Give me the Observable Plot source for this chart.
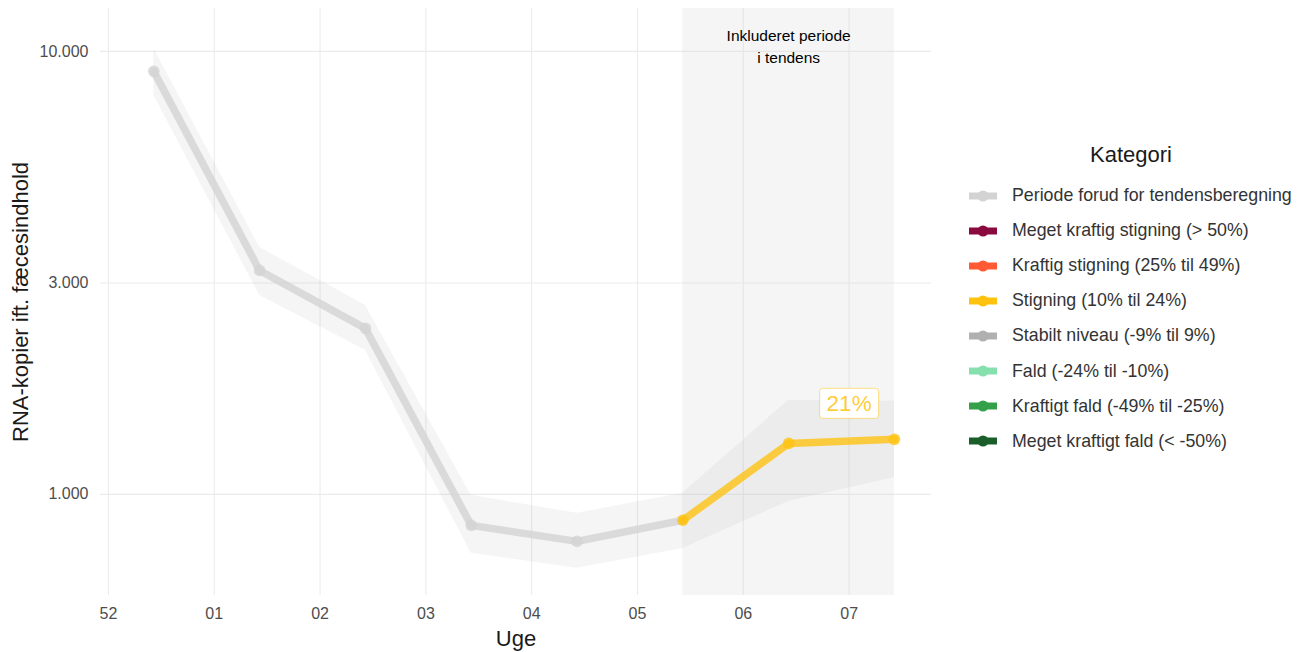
<!DOCTYPE html>
<html>
<head>
<meta charset="utf-8">
<script src="https://cdn.jsdelivr.net/npm/d3@7"></script>
<script src="https://cdn.jsdelivr.net/npm/@observablehq/plot@0.6"></script>
<style>
  body { margin: 0; background: #fff; font-family: "Liberation Sans", Arial, sans-serif; }
  #wrap { position: relative; width: 1306px; height: 652px; }
  #legend { position: absolute; left: 968px; top: 142px; width: 338px; }
  #legend .title { font-size: 22px; color: #1a1a1a; text-align: center; width: 326px; margin-bottom: 10px; }
  #legend .item { display: flex; align-items: center; height: 35.1px; }
  #legend .item svg { margin-right: 14px; flex: none; }
  #legend .item span { font-size: 17.8px; color: #333; white-space: nowrap; }
</style>
</head>
<body>
<div id="wrap">
  <div id="chart"></div>
  <div id="legend"></div>
</div>
<script>
// ---- data ----
const weekLabels = ["52", "01", "02", "03", "04", "05", "06", "07"];
const dayOffset = 3; // samples fall mid-week (Thursday)
const values = [9015, 3203, 2370, 851, 783, 874, 1303, 1331];
const lower  = [7956, 2813, 2114, 736, 681, 755, 964, 1092];
const upper  = [10157, 3611, 2671, 995, 906, 1005, 1630, 1622];
const period = ["pre", "pre", "pre", "pre", "pre", "trend", "trend", "trend"];
const trendLabel = "21%";
const trendCategory = "Stigning (10% til 24%)";

const categories = [
  "Periode forud for tendensberegning",
  "Meget kraftig stigning (> 50%)",
  "Kraftig stigning (25% til 49%)",
  "Stigning (10% til 24%)",
  "Stabilt niveau (-9% til 9%)",
  "Fald (-24% til -10%)",
  "Kraftigt fald (-49% til -25%)",
  "Meget kraftigt fald (< -50%)"
];
const categoryColors = ["#d3d3d3", "#8b0a3e", "#ff5a33", "#ffc20e", "#b0b0b0", "#86e0ae", "#34a14a", "#1b5e2a"];

const yTicks = [1000, 3000, 10000];
const yDomain = [591, 12500];
const xPadLeft = 0.075, xPadRight = 0.35; // week units of padding around the week range
const annotation = "Inkluderet periode\ni tendens";

// ---- build rows ----
const rows = values.map((v, i) => ({
  x: i + dayOffset / 7, value: v, lo: lower[i], hi: upper[i], period: period[i]
}));
const firstTrend = period.indexOf("trend");
const preRows = rows.slice(0, firstTrend + 1);
const trendRows = rows.slice(firstTrend);
const trendColor = categoryColors[categories.indexOf(trendCategory)];
const preColor = categoryColors[0];
const xStart = trendRows[0].x, xEnd = trendRows[trendRows.length - 1].x;
const xMid = (xStart + xEnd) / 2;
const xDomain = [0 - xPadLeft, d3.max(rows, d => d.x) + xPadRight];

const loc = d3.formatLocale({decimal: ",", thousands: ".", grouping: [3], currency: ["", ""]});
const fmt = loc.format(",");

// rounded rect symbol for label box
const labelBox = {
  draw(ctx) {
    const w = 29.5, h = 15, r = 3;
    ctx.moveTo(-w + r, -h);
    ctx.lineTo(w - r, -h); ctx.arcTo(w, -h, w, -h + r, r);
    ctx.lineTo(w, h - r); ctx.arcTo(w, h, w - r, h, r);
    ctx.lineTo(-w + r, h); ctx.arcTo(-w, h, -w, h - r, r);
    ctx.lineTo(-w, -h + r); ctx.arcTo(-w, -h, -w + r, -h, r);
    ctx.closePath();
  }
};

const labelRow = [{x: weekLabels.length - 1, y: 1605, text: trendLabel}];

const chart = Plot.plot({
  width: 1306,
  height: 652,
  marginLeft: 100,
  marginRight: 375,
  marginTop: 8,
  marginBottom: 57,
  style: {fontFamily: "'Liberation Sans', Arial, sans-serif", background: "#fff"},
  x: {domain: xDomain},
  y: {type: "log", domain: yDomain},
  marks: [
    Plot.gridX(d3.range(weekLabels.length), {stroke: "#ebebeb", strokeOpacity: 1, strokeWidth: 1.1}),
    Plot.gridY(yTicks, {stroke: "#ebebeb", strokeOpacity: 1, strokeWidth: 1.1}),
    Plot.rect([{}], {x1: () => xStart, x2: () => xEnd, fill: "#d9d9d9", fillOpacity: 0.27}),
    Plot.areaY(rows, {x: "x", y1: "lo", y2: "hi", fill: "#999", fillOpacity: 0.1}),
    Plot.line(preRows, {x: "x", y: "value", stroke: preColor, strokeOpacity: 0.8, strokeWidth: 7.5}),
    Plot.dot(rows.filter(d => d.period === "pre"), {x: "x", y: "value", r: 5.8, fill: preColor, fillOpacity: 0.8}),
    Plot.line(trendRows, {x: "x", y: "value", stroke: trendColor, strokeOpacity: 0.78, strokeWidth: 7.5}),
    Plot.dot(trendRows, {x: "x", y: "value", r: 5.8, fill: trendColor, fillOpacity: 0.78}),
    Plot.text([annotation], {x: () => xMid, frameAnchor: "top", dy: 17, fontSize: 15.5, fill: "#000", lineHeight: 1.42, lineAnchor: "top"}),
    Plot.dot(labelRow, {x: "x", y: "y", symbol: labelBox, r: 5, fill: "#fff", stroke: trendColor, strokeOpacity: 0.5, strokeWidth: 1}),
    Plot.text(labelRow, {x: "x", y: "y", text: "text", fontSize: 22.5, fill: trendColor, fillOpacity: 0.85}),
    Plot.axisY({ticks: yTicks, tickFormat: fmt, tickSize: 0, tickPadding: 12, fontSize: 16, color: "#4d4d4d",
      label: "RNA-kopier ift. fæcesindhold", labelAnchor: "center", labelArrow: "none", labelOffset: 88}),
    Plot.axisX({ticks: d3.range(weekLabels.length), tickFormat: i => weekLabels[i], tickSize: 0, tickPadding: 12, fontSize: 16, color: "#4d4d4d",
      label: "Uge", labelAnchor: "center", labelArrow: "none", labelOffset: 50})
  ]
});
// axis label styling
chart.querySelectorAll("[aria-label='y-axis label'] text, [aria-label='x-axis label'] text").forEach(t => {
  t.setAttribute("font-size", "22"); t.setAttribute("fill", "#1a1a1a");
});
document.getElementById("chart").appendChild(chart);

// ---- legend ----
const legend = document.getElementById("legend");
const title = document.createElement("div");
title.className = "title"; title.textContent = "Kategori";
legend.appendChild(title);
categories.forEach((c, i) => {
  const item = document.createElement("div");
  item.className = "item";
  item.innerHTML = `<svg width="30" height="14"><line x1="1" x2="29" y1="7" y2="7" stroke="${categoryColors[i]}" stroke-width="7"/><circle cx="15" cy="7" r="5.5" fill="${categoryColors[i]}"/></svg><span>${c}</span>`;
  legend.appendChild(item);
});
</script>
</body>
</html>
